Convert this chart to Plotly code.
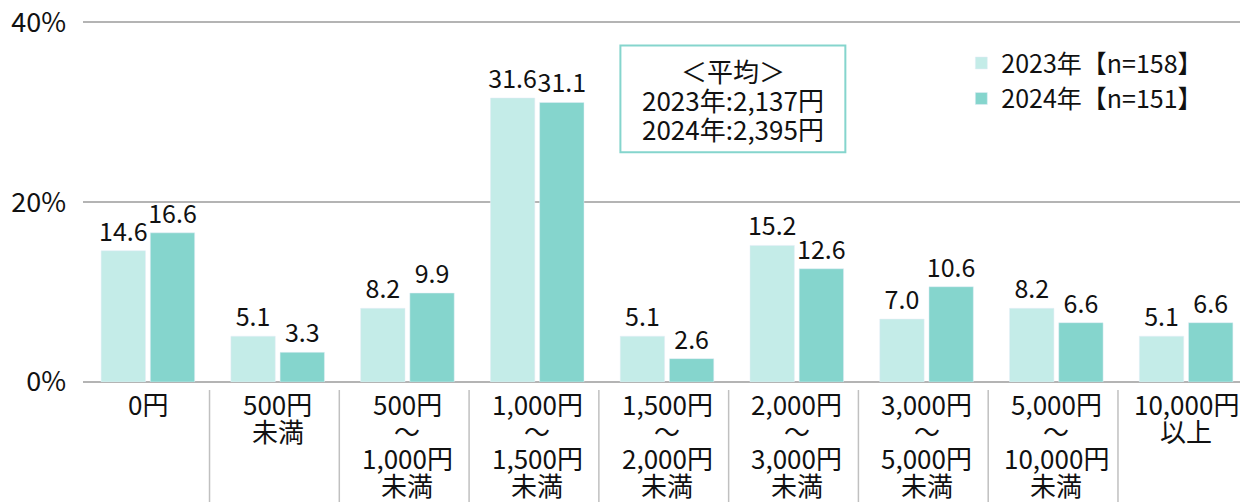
import plotly.graph_objects as go

categories = ["0円", "500円<br>未満", "500円<br>～<br>1,000円<br>未満", "1,000円<br>～<br>1,500円<br>未満",
              "1,500円<br>～<br>2,000円<br>未満", "2,000円<br>～<br>3,000円<br>未満",
              "3,000円<br>～<br>5,000円<br>未満", "5,000円<br>～<br>10,000円<br>未満", "10,000円<br>以上"]
values_2023 = [14.6, 5.1, 8.2, 31.6, 5.1, 15.2, 7.0, 8.2, 5.1]
values_2024 = [16.6, 3.3, 9.9, 31.1, 2.6, 12.6, 10.6, 6.6, 6.6]
series_names = ["2023年【n=158】", "2024年【n=151】"]
y_ticks = [0, 20, 40]
y_tick_labels = ["0%", "20%", "40%"]
avg_lines = ["＜平均＞", "2023年:2,137円", "2024年:2,395円"]

FONT = "Noto Sans CJK JP"
C23 = "#c4ece8"
C24 = "#85d5cd"
TXT = "#111111"

idx = list(range(len(categories)))

fig = go.Figure()
for vals, name, col, grp in [(values_2023, series_names[0], C23, "a"),
                             (values_2024, series_names[1], C24, "b")]:
    fig.add_trace(go.Bar(x=idx, y=vals, name=name, marker_color=col,
                         text=[f"{v:.1f}" for v in vals], textposition="outside",
                         textfont=dict(size=25, color=TXT), cliponaxis=False,
                         constraintext="none", legendgroup=grp))

shapes = []
for i in range(len(categories) - 1):
    shapes.append(dict(type="line", xref="x", yref="paper", x0=i + 0.475, x1=i + 0.475,
                       y0=-0.022, y1=-0.36, line=dict(color="#c0c0c0", width=1.5)))
# box around the average note
shapes.append(dict(type="rect", xref="paper", yref="paper", x0=0.4601, x1=0.6527,
                   y0=0.631, y1=0.9245, line=dict(color=C24, width=2), fillcolor="white",
                   layer="above"))

annotations = []
for j, line in enumerate(avg_lines):
    annotations.append(dict(text=line, xref="paper", yref="paper", x=0.5564, y=0.856,
                            xanchor="center", yanchor="middle", showarrow=False,
                            yshift=-29 * j, font=dict(size=26, color=TXT)))

# x category labels, one annotation per line for tighter line spacing
for i, lab in enumerate(categories):
    for j, line in enumerate(lab.split("<br>")):
        annotations.append(dict(text=line, xref="x", yref="paper", x=i, y=0,
                                xanchor="center", yanchor="middle", showarrow=False,
                                yshift=-(21 + 27.3 * j), font=dict(size=26, color=TXT)))

fig.update_layout(
    width=1248, height=502,
    margin=dict(l=75, r=5, t=9.5, b=128, autoexpand=False),
    paper_bgcolor="white", plot_bgcolor="white",
    font=dict(family=FONT, color=TXT, size=22),
    barmode="group", bargap=0.242, bargroupgap=0.098,
    showlegend=True,
    legend=dict(x=0.752, y=0.939, xanchor="left", yanchor="top", font=dict(size=25),
                tracegroupgap=0, traceorder="grouped", bgcolor="rgba(0,0,0,0)"),
    xaxis=dict(tickmode="array", tickvals=idx, ticktext=categories, showticklabels=False,
               range=[-0.5, len(categories) - 0.5], automargin=False,
               showline=False, showgrid=False, zeroline=False, ticks=""),
    yaxis=dict(range=[0, 40.5], tickmode="array", tickvals=y_ticks, ticktext=y_tick_labels,
               automargin=False, showgrid=True, gridcolor="#b4b4b4", gridwidth=2,
               zeroline=True, zerolinecolor="#b4b4b4", zerolinewidth=2, showline=False,
               ticks="", tickfont=dict(size=27), ticklabelstandoff=16,
               ticklabeloverflow="allow"),
    shapes=shapes,
    annotations=annotations,
)

fig.write_html("out.html")
